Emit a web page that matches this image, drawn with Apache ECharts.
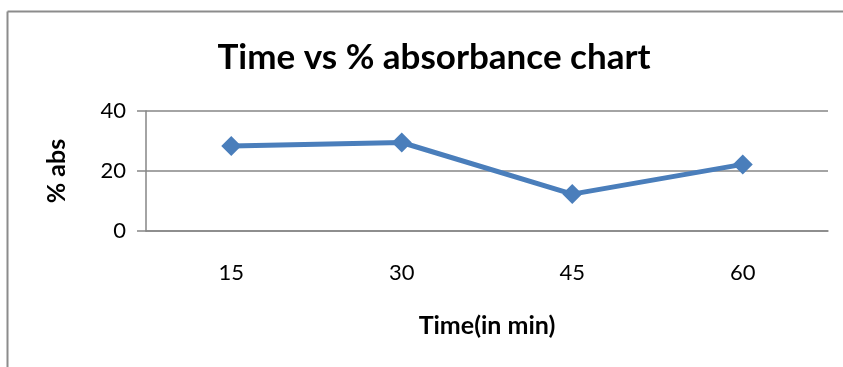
<!DOCTYPE html>
<html>
<head>
<meta charset="utf-8">
<script src="https://cdn.jsdelivr.net/npm/echarts@6/dist/echarts.min.js"></script>
<style>
html,body{margin:0;padding:0;background:#fff;}
#c{width:843px;height:367px;}
</style>
</head>
<body>
<div id="c"></div>
<script>
var categories = ['15', '30', '45', '60'];
var absValues = [28.3, 29.5, 12.3, 22.2];
var yTicks = [0, 20, 40];

var FONT = 'Lato';
var chart = echarts.init(document.getElementById('c'), null, {renderer: 'canvas'});
chart.setOption({
  animation: false,
  backgroundColor: '#ffffff',
  graphic: [
    {type: 'line', shape: {x1: 7.5, y1: 11.5, x2: 843, y2: 11.5}, style: {stroke: '#8c8c8c', lineWidth: 2}},
    {type: 'line', shape: {x1: 7.5, y1: 11.5, x2: 7.5, y2: 367}, style: {stroke: '#8c8c8c', lineWidth: 2}}
  ],
  title: {
    text: 'Time vs % absorbance chart',
    left: 434, textAlign: 'center',
    top: 40,
    padding: 0,
    textStyle: {fontFamily: FONT, fontWeight: 'bold', fontSize: 35, color: '#000'}
  },
  grid: {left: 146, top: 111, right: 15, bottom: 136, containLabel: false},
  xAxis: {
    type: 'category',
    data: categories,
    boundaryGap: true,
    name: 'Time(in min)',
    nameLocation: 'middle',
    nameGap: 82,
    nameTextStyle: {fontFamily: FONT, fontWeight: 'bold', fontSize: 25, color: '#000'},
    axisLine: {lineStyle: {color: '#868686', width: 1.5}},
    axisTick: {show: false},
    axisLabel: {fontFamily: FONT, fontSize: 22, color: '#000', margin: 31}
  },
  yAxis: {
    type: 'value',
    min: yTicks[0], max: yTicks[yTicks.length - 1], interval: yTicks[1] - yTicks[0],
    name: '% abs',
    nameLocation: 'middle',
    nameGap: 77,
    nameRotate: 90,
    nameTextStyle: {fontFamily: FONT, fontWeight: 'bold', fontSize: 25, color: '#000'},
    axisLine: {show: true, lineStyle: {color: '#868686', width: 1.5}},
    axisTick: {show: true, length: 9, lineStyle: {color: '#868686', width: 1.5}},
    splitLine: {lineStyle: {color: '#868686', width: 1.5}},
    axisLabel: {fontFamily: FONT, fontSize: 22, color: '#000', margin: 20}
  },
  series: [{
    type: 'line',
    data: absValues,
    symbol: 'diamond',
    symbolSize: 20,
    lineStyle: {color: '#4a7ebb', width: 5},
    itemStyle: {color: '#4a7ebb'}
  }]
});
</script>
</body>
</html>
